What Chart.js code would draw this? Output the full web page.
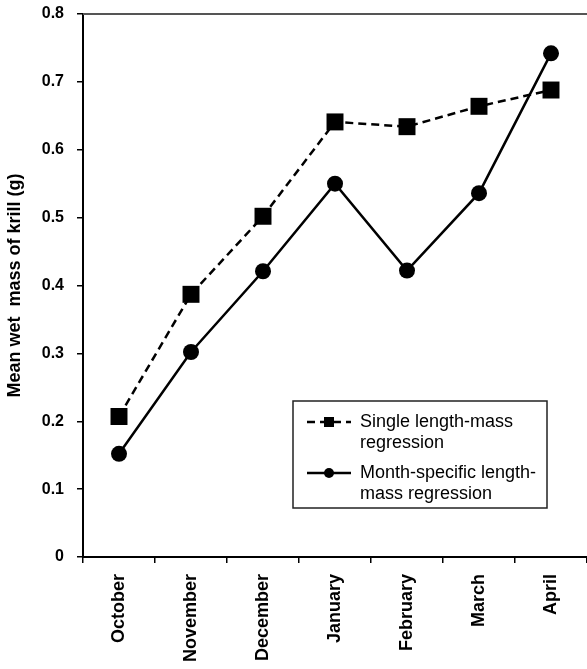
<!DOCTYPE html>
<html>
<head>
<meta charset="utf-8">
<script src="https://cdn.jsdelivr.net/npm/chart.js@4"></script>
<style>
  html, body { margin: 0; padding: 0; background: #fff; overflow: hidden; }
  #wrap { width: 587px; height: 669px; }
  canvas { display: block; }
</style>
</head>
<body>
<div id="wrap"><canvas id="krill"></canvas></div>
<script>
// 월별 크릴 평균 습중량
const months = ['October', 'November', 'December', 'January', 'February', 'March', 'April'];
const singleRegression = [0.207, 0.387, 0.502, 0.641, 0.634, 0.664, 0.688];
const monthRegression = [0.152, 0.302, 0.421, 0.550, 0.422, 0.536, 0.742];
const legendLines = [
  ['Single length-mass', 'regression'],
  ['Month-specific length-', 'mass regression']
];

// 범례 + 윗 테두리 직접 그리기
const boxLegend = {
  id: 'boxLegend',
  afterDraw(chart) {
    const { ctx, chartArea } = chart;
    ctx.save();

    // top border
    ctx.strokeStyle = '#555';
    ctx.lineWidth = 2;
    ctx.beginPath();
    ctx.moveTo(chartArea.left, chartArea.top);
    ctx.lineTo(chartArea.right, chartArea.top);
    ctx.stroke();

    const bx = chartArea.left + 210, by = chartArea.top + 387;
    const bw = 254, bh = 107;
    ctx.strokeStyle = '#222';
    ctx.lineWidth = 1.5;
    ctx.fillStyle = '#fff';
    ctx.fillRect(bx, by, bw, bh);
    ctx.strokeRect(bx, by, bw, bh);

    const rows = [by + 21, by + 72];
    ctx.font = '18px "Liberation Sans", Arial, sans-serif';
    ctx.textBaseline = 'middle';
    chart.data.datasets.forEach((ds, i) => {
      const y = rows[i];
      ctx.strokeStyle = '#000';
      ctx.lineWidth = 2.5;
      ctx.setLineDash(ds.borderDash || []);
      ctx.beginPath();
      ctx.moveTo(bx + 14, y);
      ctx.lineTo(bx + 58, y);
      ctx.stroke();
      ctx.setLineDash([]);
      ctx.fillStyle = '#000';
      if (ds.pointStyle === 'rect') {
        ctx.fillRect(bx + 31, y - 5, 10, 10);
      } else {
        ctx.beginPath();
        ctx.arc(bx + 36, y, 5, 0, Math.PI * 2);
        ctx.fill();
      }
      legendLines[i].forEach((t, j) => {
        ctx.fillText(t, bx + 67, y + j * 21);
      });
    });
    ctx.restore();
  }
};

const ctx = document.getElementById('krill').getContext('2d');
new Chart(ctx, {
  type: 'line',
  data: {
    labels: months,
    datasets: [{
      label: 'Single length-mass regression',
      data: singleRegression,
      borderColor: '#000',
      backgroundColor: '#000',
      borderWidth: 2.5,
      borderDash: [8, 5],
      pointStyle: 'rect',
      pointRadius: 12,
      pointBorderWidth: 0,
      tension: 0
    }, {
      label: 'Month-specific length-mass regression',
      data: monthRegression,
      borderColor: '#000',
      backgroundColor: '#000',
      borderWidth: 2.5,
      pointStyle: 'circle',
      pointRadius: 8,
      pointBorderWidth: 0,
      tension: 0
    }]
  },
  options: {
    responsive: true,
    maintainAspectRatio: false,
    animation: false,
    layout: { autoPadding: false, padding: { top: 14, right: 0, left: 4, bottom: 4 } },
    scales: {
      x: {
        offset: true,
        afterFit: scale => { scale.paddingRight = 0; scale.height = 108; },
        grid: { offset: true, drawOnChartArea: false, color: '#000', tickLength: 6, lineWidth: 1.5 },
        border: { color: '#000', width: 2 },
        ticks: {
          color: '#000',
          minRotation: 90,
          maxRotation: 90,
          padding: 11,
          font: { family: '"Liberation Sans", Arial, sans-serif', size: 18, weight: 'bold' }
        }
      },
      y: {
        min: 0,
        max: 0.8,
        afterFit: scale => { scale.paddingTop = 0; scale.paddingBottom = 0; scale.width = 79; },
        grid: { drawOnChartArea: false, color: '#000', tickLength: 6, lineWidth: 1.5 },
        border: { color: '#000', width: 2 },
        ticks: {
          stepSize: 0.1,
          color: '#000',
          padding: 13,
          font: { family: '"Liberation Sans", Arial, sans-serif', size: 16, weight: 'bold' },
          callback: v => (v === 0 ? '0' : v.toFixed(1))
        },
        title: {
          display: true,
          text: 'Mean wet  mass of krill (g)',
          color: '#000',
          padding: { top: 0, bottom: 7 },
          font: { family: '"Liberation Sans", Arial, sans-serif', size: 18, weight: 'bold' }
        }
      }
    },
    plugins: {
      legend: { display: false },
      tooltip: { enabled: false }
    }
  },
  plugins: [boxLegend]
});
</script>
</body>
</html>
